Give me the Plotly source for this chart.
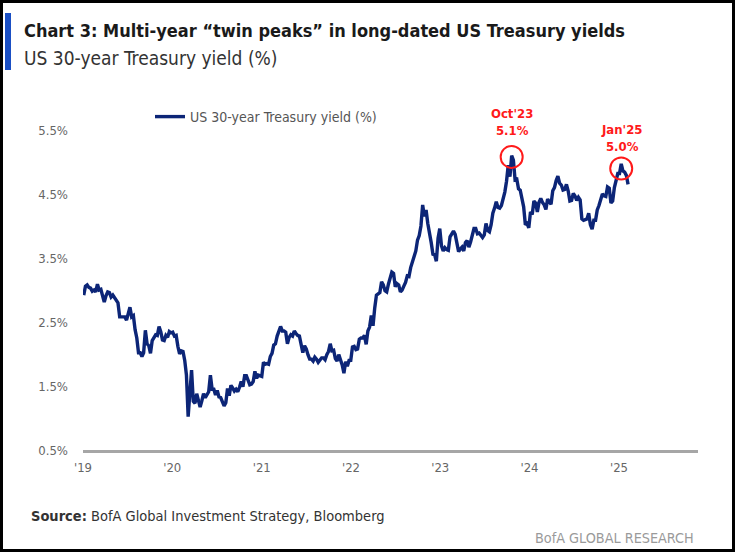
import pandas as pd
import plotly.graph_objects as go

# Weekly (Friday) US 30-year Treasury yield, %
y2019 = [2.92, 3.06, 3.08, 3.04, 3.03, 2.98, 3.00, 2.97, 3.09, 3.00, 3.01, 2.88, 2.81,
         2.91, 2.97, 2.96, 2.89, 2.92, 2.88, 2.83, 2.80, 2.58, 2.58, 2.59, 2.58, 2.53,
         2.61, 2.73, 2.58, 2.60, 2.38, 2.25, 2.02, 2.02, 1.96, 2.02, 2.37, 2.16, 2.13,
         2.01, 2.21, 2.25, 2.30, 2.29, 2.43, 2.35, 2.22, 2.21, 2.29, 2.26, 2.35, 2.33]
y2020 = [2.34, 2.28, 2.29, 2.12, 2.00, 2.05, 2.04, 1.90, 1.67, 1.02, 1.50, 1.75, 1.26,
         1.23, 1.38, 1.28, 1.17, 1.27, 1.38, 1.32, 1.37, 1.41, 1.67, 1.45, 1.45, 1.36,
         1.43, 1.33, 1.32, 1.24, 1.19, 1.24, 1.46, 1.35, 1.51, 1.47, 1.42, 1.45, 1.41,
         1.48, 1.57, 1.49, 1.66, 1.66, 1.60, 1.52, 1.53, 1.57, 1.73, 1.62, 1.67, 1.66]
y2021 = [1.65, 1.87, 1.84, 1.85, 1.84, 1.96, 2.01, 2.14, 2.16, 2.28, 2.38, 2.43, 2.36,
         2.36, 2.34, 2.16, 2.26, 2.30, 2.28, 2.36, 2.32, 2.29, 2.28, 2.16, 2.02, 2.13,
         2.08, 1.99, 1.92, 1.92, 1.89, 1.95, 1.92, 1.87, 1.91, 1.94, 1.94, 1.91, 1.99,
         2.04, 2.16, 2.05, 2.06, 1.93, 1.89, 1.99, 1.91, 1.83, 1.70, 1.88, 1.81, 1.90, 1.90]
y2022 = [2.11, 2.12, 2.07, 2.08, 2.23, 2.25, 2.25, 2.29, 2.15, 2.36, 2.42, 2.60,
         2.44, 2.72, 2.92, 2.94, 2.96, 3.13, 3.08, 2.99, 2.97, 3.09, 3.19, 3.28, 3.26,
         3.05, 3.10, 3.08, 2.97, 3.00, 3.06, 3.12, 3.22, 3.21, 3.35, 3.45, 3.52, 3.61, 3.78,
         3.85, 4.00, 4.33, 4.15, 4.25, 4.04, 3.91, 3.74, 3.56, 3.55, 3.45, 3.81, 3.96]
y2023 = [3.69, 3.61, 3.66, 3.63, 3.62, 3.83, 3.88, 3.92, 3.87, 3.70, 3.60, 3.64, 3.67,
         3.61, 3.74, 3.77, 3.67, 3.75, 3.84, 3.96, 3.96, 3.88, 3.89, 3.85, 3.82, 3.86,
         4.04, 3.93, 3.91, 4.02, 4.20, 4.28, 4.38, 4.29, 4.28, 4.32, 4.42, 4.53, 4.70,
         4.95, 4.77, 5.10, 5.03, 4.72, 4.73, 4.58, 4.56, 4.40, 4.30, 4.02, 4.04, 3.97]
y2024 = [4.22, 4.18, 4.39, 4.36, 4.22, 4.37, 4.43, 4.37, 4.33, 4.26, 4.42, 4.38, 4.34,
         4.55, 4.60, 4.71, 4.78, 4.67, 4.64, 4.56, 4.57, 4.65, 4.55, 4.39, 4.40, 4.51,
         4.47, 4.40, 4.45, 4.41, 4.11, 4.09, 4.10, 4.11, 4.20, 4.02, 3.95, 4.09, 4.09,
         4.25, 4.32, 4.40, 4.50, 4.47, 4.46, 4.61, 4.59, 4.36, 4.39, 4.60, 4.72, 4.82]
y2025 = [4.82, 4.97, 4.86, 4.84, 4.79, 4.65]

yields = y2019 + y2020 + y2021 + y2022 + y2023 + y2024 + y2025
dates = pd.date_range("2019-01-04", periods=len(yields), freq="W-FRI")

tick_vals = ["2019-01-01", "2020-01-01", "2021-01-01", "2022-01-01",
             "2023-01-01", "2024-01-01", "2025-01-01"]
tick_text = ["'19", "'20", "'21", "'22", "'23", "'24", "'25"]
y_ticks = [0.5, 1.5, 2.5, 3.5, 4.5, 5.5]

peak_dates = ["2023-10-20", "2025-01-10"]
peak_circle_vals = [5.08, 4.90]
peak_labels = ["Oct'23<br>5.1%", "Jan'25<br>5.0%"]
peak_label_shift = [17, 12]

W, H = 735, 552
ML, MR, MT, MB = 83, 37, 130, 102
PW, PH = W - ML - MR, H - MT - MB


def px(x):
    return (x - ML) / PW


def py(y):
    return (H - MB - y) / PH


FONT = "Liberation Sans Narrow, Arial Narrow, DejaVu Sans Condensed, sans-serif"
NAVY = "#0c2577"
RED = "#ff1a1a"

fig = go.Figure()
fig.add_trace(go.Scatter(
    x=dates, y=yields, mode="lines",
    line=dict(color=NAVY, width=3.4),
    name="US 30-year Treasury yield (%)",
))

fig.update_layout(
    width=W, height=H,
    margin=dict(l=ML, r=MR, t=MT, b=MB),
    paper_bgcolor="white", plot_bgcolor="white",
    font=dict(family=FONT, color="#666666", size=13),
    showlegend=True,
    legend=dict(orientation="h", x=px(150), y=py(117), xanchor="left", yanchor="middle",
                font=dict(size=14, color="#555555"), bgcolor="rgba(0,0,0,0)"),
    xaxis=dict(type="date", range=["2019-01-01", "2025-11-20"],
               tickvals=tick_vals, ticktext=tick_text,
               showgrid=False, zeroline=False, showline=True,
               linecolor="#a6a6a6", linewidth=3, ticks="",
               ticklabelstandoff=3, tickfont=dict(size=13, color="#666666")),
    yaxis=dict(range=[0.5, 5.5], tickvals=y_ticks,
               ticktext=[f"{v:.1f}%" for v in y_ticks],
               showgrid=False, zeroline=False, showline=False, ticks="",
               ticklabelstandoff=14, tickfont=dict(size=13, color="#666666")),
)

for d, v, lab, sh in zip(peak_dates, peak_circle_vals, peak_labels, peak_label_shift):
    fig.add_shape(type="circle", xref="x", yref="y",
                  xsizemode="pixel", ysizemode="pixel",
                  xanchor=d, yanchor=v, x0=-11, x1=11, y0=-11, y1=11,
                  line=dict(color=RED, width=2))
    fig.add_annotation(x=d, y=v, xref="x", yref="y", text=f"<b>{lab}</b>", showarrow=False,
                       yanchor="bottom", yshift=sh,
                       font=dict(size=13, color=RED, family=FONT), align="center")

# black frame
fig.add_shape(type="rect", xref="paper", yref="paper",
              x0=px(1.5), x1=px(733.5), y0=py(550.5), y1=py(1.5),
              line=dict(color="black", width=3), fillcolor="rgba(0,0,0,0)", layer="above")
# blue accent bar
fig.add_shape(type="rect", xref="paper", yref="paper",
              x0=px(5), x1=px(11), y0=py(70), y1=py(13),
              line=dict(width=0), fillcolor="#1a4fc4")

fig.add_annotation(xref="paper", yref="paper", x=px(22), y=py(30), xanchor="left", yanchor="middle",
                   text="<b>Chart 3: Multi-year “twin peaks” in long-dated US Treasury yields</b>",
                   showarrow=False, font=dict(size=18, color="#1a1a1a", family=FONT))
fig.add_annotation(xref="paper", yref="paper", x=px(22), y=py(58), xanchor="left", yanchor="middle",
                   text="US 30-year Treasury yield (%)",
                   showarrow=False, font=dict(size=19, color="#333333", family=FONT))
fig.add_annotation(xref="paper", yref="paper", x=px(29), y=py(516), xanchor="left", yanchor="middle",
                   text="<b>Source:</b> BofA Global Investment Strategy, Bloomberg",
                   showarrow=False, font=dict(size=14.5, color="#333333", family=FONT))
fig.add_annotation(xref="paper", yref="paper", x=px(696), y=py(538), xanchor="right", yanchor="middle",
                   text="BofA GLOBAL RESEARCH",
                   showarrow=False, font=dict(size=14.3, color="#9a9a9a", family=FONT))

fig.write_html("out.html", config={"displayModeBar": False},
               post_script="document.body.style.margin='0';document.body.style.overflow='hidden';")
